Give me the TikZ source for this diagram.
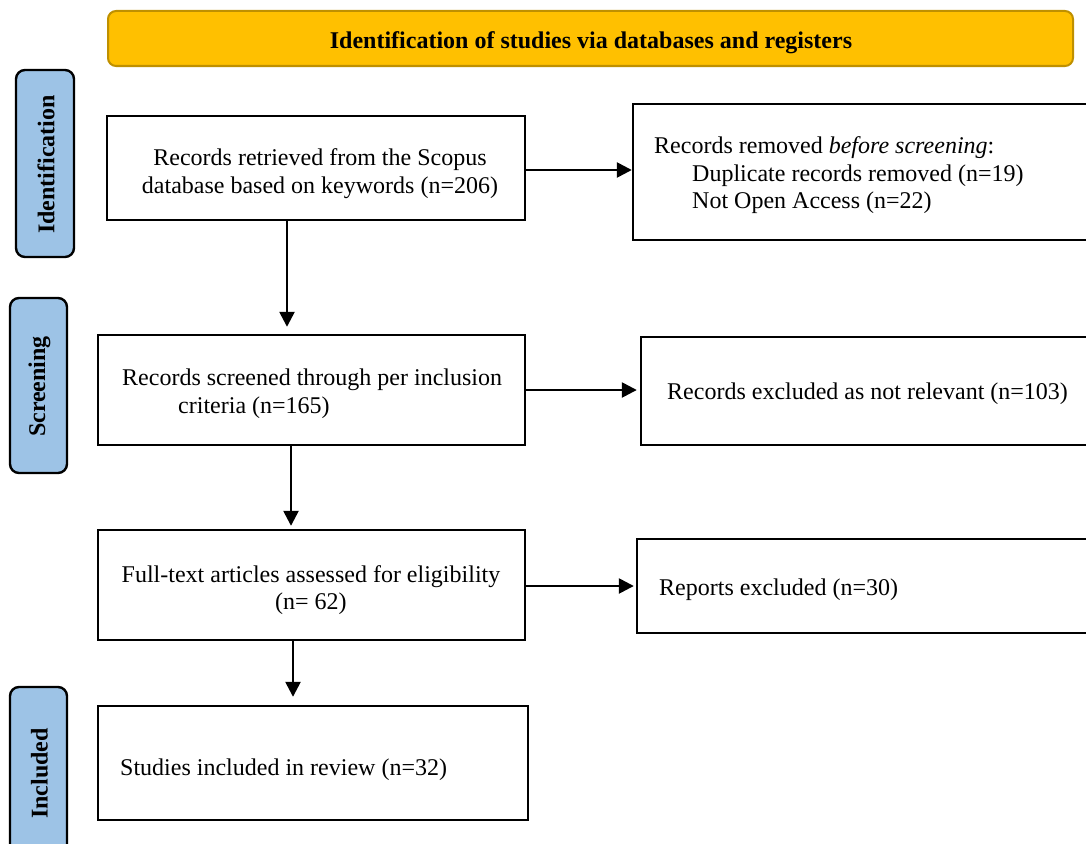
\documentclass[tikz,border=0pt]{standalone}
\usepackage{fontspec}
\setmainfont{Liberation Serif}
\usetikzlibrary{arrows.meta}
\definecolor{bannerfill}{HTML}{FFC000}
\definecolor{bannerdraw}{HTML}{BF9000}
\definecolor{sidefill}{HTML}{9DC3E6}
\begin{document}
\begin{tikzpicture}[x=1pt,y=-1pt,
  box/.style={draw=black, line width=2.4pt, rectangle, inner sep=0pt},
  phase/.style={draw=black, line width=2.4pt, fill=sidefill, rounded corners=9pt, inner sep=0pt},
  banner/.style={draw=bannerdraw, line width=2pt, fill=bannerfill, rounded corners=8pt, inner sep=0pt},
  flow/.style={line width=2.5pt, -{Triangle[length=15pt,width=15pt]}},
  txt/.style={font=\fontsize{24}{27.6}\selectfont, inner sep=0pt},
  phasetxt/.style={font=\bfseries\fontsize{24}{27.6}\selectfont, rotate=90, inner sep=0pt}]
\useasboundingbox (0,0) rectangle (1086,843);
\clip (0,0) rectangle (1086,843);
% banner
\node[banner, minimum width=965pt, minimum height=55pt] (ban) at (590.5,38.5) {};
\node[txt, font=\bfseries\fontsize{24}{27.6}\selectfont] (bantxt) at (591,42.5) {Identification of studies via databases and registers};
% phase labels
\node[phase, minimum width=58pt, minimum height=187pt] (p1) at (45,163.5) {};
\node[phasetxt] (p1t) at (46,164.5) {Identification};
\node[phase, minimum width=57pt, minimum height=175pt] (p2) at (38.5,385.5) {};
\node[phasetxt] (p2t) at (39.5,386.5) {Screening};
\node[phase, minimum width=57pt, minimum height=183pt] (p3) at (38.5,778.5) {};
\node[phasetxt] (p3t) at (39.5,773.5) {Included};
% main boxes
\node[box, minimum width=418pt, minimum height=104pt] (b1) at (316,168) {};
\node[box, minimum width=427pt, minimum height=110pt] (b2) at (311.5,390) {};
\node[box, minimum width=427pt, minimum height=110pt] (b3) at (311.5,585) {};
\node[box, minimum width=430pt, minimum height=114pt] (b4) at (313,763) {};
% right boxes
\node[box, minimum width=477pt, minimum height=136pt] (r1) at (871.5,172) {};
\node[box, minimum width=469pt, minimum height=108pt] (r2) at (875.5,391) {};
\node[box, minimum width=473pt, minimum height=94pt] (r3) at (873.5,586) {};
% texts
\node[txt, align=center] (t1) at (320,173.5) {Records retrieved from the Scopus\\database based on keywords (n=206)};
\node[txt, align=left, anchor=west] (t2) at (122,394) {Records screened through per inclusion\\\hspace*{56pt}criteria (n=165)};
\node[txt, align=center] (t3) at (311,590) {Full-text articles assessed for eligibility\\(n= 62)};
\node[txt, anchor=west] (t4) at (120,769.5) {Studies included in review (n=32)};
\node[txt, align=left, anchor=west] (rt1) at (654,175.5) {Records removed \textit{before screening}:\\\hspace*{38pt}Duplicate records removed (n=19)\\\hspace*{38pt}Not Open Access (n=22)};
\node[txt, anchor=west] (rt2) at (667,393.5) {Records excluded as not relevant (n=103)};
\node[txt, anchor=west] (rt3) at (659,589.5) {Reports excluded (n=30)};
% connectors
\draw[flow, shorten >=7pt] ([xshift=-29pt]b1.south) -- ([xshift=-29pt]b1.south |- b2.north);
\draw[flow, shorten >=3pt] ([xshift=-20.5pt]b2.south) -- ([xshift=-20.5pt]b2.south |- b3.north);
\draw[flow, shorten >=8pt] ([xshift=-18.5pt]b3.south) -- ([xshift=-18.5pt]b3.south |- b4.north);
\draw[flow] ([yshift=-2pt]b1.east) -- ([yshift=-2pt]b1.east -| r1.west);
\draw[flow, shorten >=3pt] (b2.east) -- (b2.east -| r2.west);
\draw[flow, shorten >=2pt] ([yshift=-1pt]b3.east) -- ([yshift=-1pt]b3.east -| r3.west);
\end{tikzpicture}
\end{document}
